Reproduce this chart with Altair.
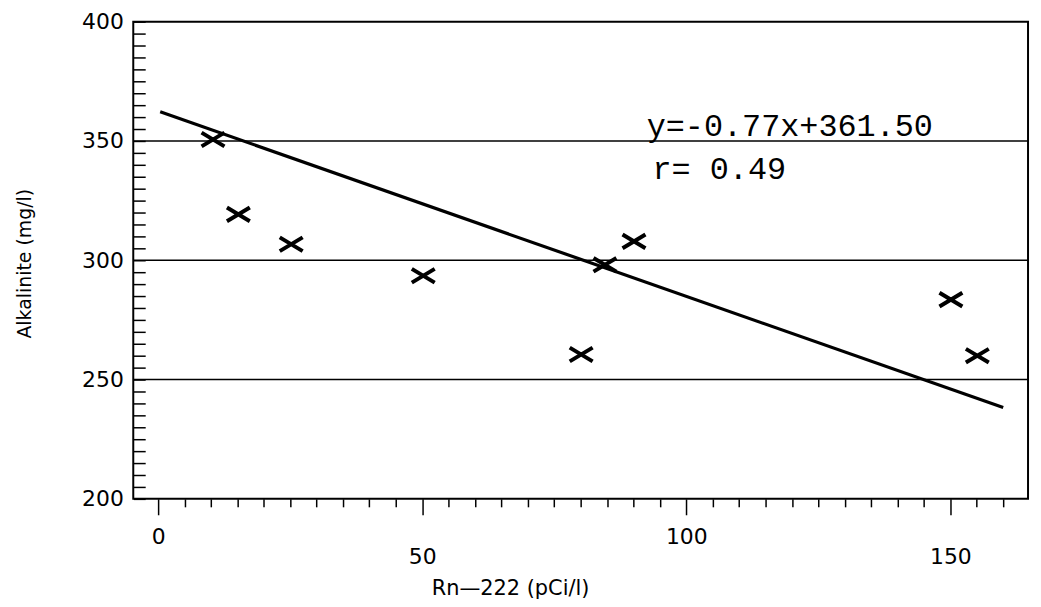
import altair as alt
import pandas as pd

# ---- data ----
rn_values = [10.4, 15.2, 25.2, 50.2, 80.1, 84.6, 90.1, 150.1, 155.1]
alk_values = [350.6, 319.2, 306.7, 293.5, 260.5, 298.1, 307.9, 283.5, 260.0]

fit_rn = [0.4, 160.0]
fit_alk = [362.2, 238.3]

grid_alk = [250, 300, 350]

x_tick_values = list(range(0, 165, 5))
y_tick_values = list(range(200, 405, 5))

note_text = ["y=-0.77x+361.50", "r= 0.49"]
note_rn = [92.5, 93.6]
note_alk = [352.0, 334.0]

points = pd.DataFrame({"rn": rn_values, "alk": alk_values})
fit = pd.DataFrame({"rn": fit_rn, "alk": fit_alk})
grid = pd.DataFrame({"alk": grid_alk})
notes = pd.DataFrame({"rn": note_rn, "alk": note_alk, "text": note_text})

xscale = alt.Scale(domain=[-4.7, 164.7], nice=False, zero=False)
yscale = alt.Scale(domain=[200, 400], nice=False, zero=False)

label_font = "DejaVu Sans"

x_axis = alt.Axis(
    values=x_tick_values,
    labelExpr="datum.value % 50 === 0 ? datum.label : ''",
    tickSize={"condition": {"test": "datum.value % 50 === 0", "value": 16}, "value": 8},
    labelPadding={"condition": {"test": "datum.value % 100 === 0", "value": 12}, "value": 32},
    tickColor="black",
    tickWidth=1.5,
    labelColor="black",
    labelFont=label_font,
    labelFontSize=22,
    labelOverlap=False,
    labelFlush=False,
    domain=False,
    grid=False,
    title="Rn—222 (pCi/l)",
    titleX=379,
    titleY=90,
    titleAlign="center",
    titleBaseline="middle",
    titleFont=label_font,
    titleFontSize=21,
    titleFontWeight="normal",
    titleColor="black",
)

y_axis = alt.Axis(
    values=y_tick_values,
    labelExpr="datum.value % 50 === 0 ? datum.label : ''",
    tickSize=12,
    offset=-12,
    labelPadding=10,
    tickColor="black",
    tickWidth=1.5,
    labelColor="black",
    labelFont=label_font,
    labelFontSize=22,
    labelOverlap=False,
    labelFlush=False,
    domain=False,
    grid=False,
    title="Alkalinite (mg/l)",
    titleX=-121,
    titleY=243,
    titleAngle=270,
    titleAlign="center",
    titleBaseline="middle",
    titleFont=label_font,
    titleFontSize=19,
    titleFontWeight="normal",
    titleColor="black",
)

X = alt.X("rn:Q", scale=xscale, axis=x_axis)
Y = alt.Y("alk:Q", scale=yscale, axis=y_axis)

base_pts = alt.Chart(points).mark_point(
    shape="M-1,-0.6L1,0.6M-1,0.6L1,-0.6",
    size=530,
    filled=False,
    stroke="black",
    strokeWidth=4,
    opacity=1,
).encode(x=X, y=Y)

gridlines = alt.Chart(grid).mark_rule(color="black", strokeWidth=1.6).encode(y=Y)

fit_line = alt.Chart(fit).mark_line(color="black", strokeWidth=3.2).encode(x=X, y=Y)

note_marks = alt.Chart(notes).mark_text(
    align="left",
    baseline="alphabetic",
    font="Liberation Mono",
    fontSize=32,
    color="black",
).encode(x=X, y=Y, text="text:N")

chart = (
    alt.layer(base_pts, gridlines, fit_line, note_marks)
    .properties(
        width=900,
        height=480,
        autosize=alt.AutoSizeParams(type="none"),
        padding={"left": 126, "top": 12, "right": 5, "bottom": 100},
        background="white",
    )
    .configure_view(stroke="black", strokeWidth=2, fill="white")
)

chart.save("out.html", embed_options={"renderer": "svg", "actions": False})
